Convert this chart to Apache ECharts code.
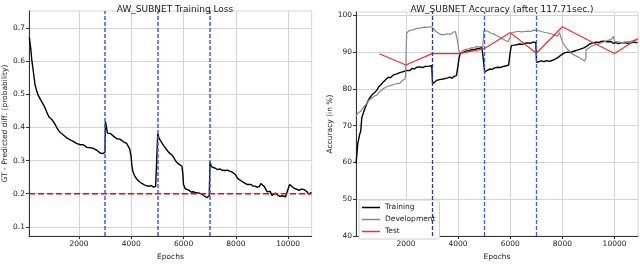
<!DOCTYPE html>
<html><head><meta charset="utf-8">
<script src="https://cdn.jsdelivr.net/npm/echarts@6/dist/echarts.min.js"></script>
<style>html,body{margin:0;padding:0;background:#fff}#c{width:640px;height:266px}</style>
</head><body><div id="c"></div>
<script>
// ---- data ----
const lossTitle = "AW_SUBNET Training Loss";
const accTitle = "AW_SUBNET Accuracy (after 117.71sec.)";
const xTicks = [2000, 4000, 6000, 8000, 10000];
const lossTicks = [0.1, 0.2, 0.3, 0.4, 0.5, 0.6, 0.7];
const accTicks = [40, 50, 60, 70, 80, 90, 100];
const phaseEpochs = [3000, 5000, 7000];
const lossThreshold = 0.2;
const seriesNames = ["Training", "Development", "Test"];

const trainingLoss = [[100,0.672],[150,0.64],[190,0.605],[250,0.57],[314,0.53],[380,0.51],[441,0.497],[520,0.485],[600,0.474],[659,0.466],[720,0.455],[800,0.44],[850,0.432],[889,0.428],[950,0.425],[1015,0.418],[1080,0.41],[1146,0.40],[1207,0.392],[1280,0.385],[1350,0.38],[1420,0.376],[1480,0.372],[1529,0.369],[1600,0.366],[1680,0.362],[1760,0.359],[1830,0.356],[1900,0.352],[1970,0.353],[2040,0.348],[2100,0.351],[2165,0.348],[2230,0.344],[2300,0.34],[2370,0.342],[2440,0.339],[2500,0.341],[2548,0.337],[2620,0.334],[2700,0.33],[2760,0.327],[2805,0.323],[2850,0.326],[2900,0.321],[2960,0.322],[2990,0.325],[3010,0.418],[3040,0.405],[3084,0.383],[3150,0.378],[3200,0.382],[3250,0.376],[3314,0.374],[3380,0.37],[3444,0.366],[3500,0.362],[3560,0.365],[3620,0.359],[3700,0.357],[3762,0.356],[3820,0.352],[3889,0.347],[3940,0.335],[3992,0.312],[4020,0.285],[4057,0.268],[4120,0.255],[4211,0.244],[4300,0.237],[4402,0.231],[4500,0.227],[4594,0.224],[4680,0.222],[4760,0.225],[4847,0.22],[4930,0.222],[4990,0.226],[5010,0.381],[5050,0.37],[5103,0.362],[5180,0.352],[5250,0.344],[5300,0.34],[5360,0.332],[5430,0.325],[5500,0.321],[5552,0.317],[5620,0.31],[5700,0.298],[5760,0.295],[5805,0.29],[5870,0.287],[5935,0.283],[5970,0.26],[5996,0.228],[6060,0.215],[6126,0.209],[6200,0.211],[6280,0.205],[6360,0.206],[6444,0.204],[6520,0.2],[6600,0.202],[6701,0.199],[6780,0.194],[6850,0.19],[6893,0.188],[6950,0.19],[6981,0.194],[7010,0.297],[7060,0.282],[7130,0.278],[7211,0.277],[7300,0.273],[7380,0.275],[7460,0.271],[7529,0.273],[7600,0.27],[7680,0.271],[7760,0.268],[7840,0.266],[7912,0.265],[7980,0.258],[8040,0.25],[8103,0.243],[8180,0.24],[8260,0.236],[8340,0.232],[8425,0.228],[8500,0.226],[8580,0.228],[8660,0.223],[8743,0.223],[8820,0.219],[8900,0.222],[8960,0.231],[9023,0.233],[9080,0.222],[9140,0.214],[9192,0.206],[9250,0.2],[9310,0.207],[9380,0.195],[9444,0.196],[9520,0.202],[9600,0.196],[9680,0.192],[9766,0.194],[9840,0.19],[9900,0.191],[9958,0.196],[10000,0.215],[10057,0.228],[10120,0.226],[10200,0.218],[10280,0.215],[10341,0.213],[10420,0.21],[10500,0.214],[10594,0.213],[10660,0.207],[10720,0.206],[10785,0.199],[10840,0.195],[10889,0.204]];

const trainingAcc = [[88,59.8],[153,65.1],[220,67.5],[268,68.6],[306,72.1],[370,73.5],[432,74.8],[510,76.2],[596,77.4],[700,78.4],[800,79.0],[880,79.6],[960,80.6],[1050,81.2],[1132,81.9],[1220,82.5],[1323,83.2],[1400,83.0],[1480,83.6],[1560,83.9],[1644,84.1],[1720,83.8],[1800,84.5],[1897,84.7],[1960,84.4],[2030,85.0],[2088,85.1],[2160,85.0],[2240,85.6],[2320,85.4],[2409,85.9],[2480,85.7],[2560,86.0],[2640,85.8],[2727,86.1],[2800,86.3],[2880,86.2],[2956,86.5],[2990,86.3],[3021,81.4],[3080,81.9],[3174,82.3],[3250,82.0],[3330,82.6],[3426,82.7],[3500,82.5],[3600,83.0],[3683,83.2],[3760,82.9],[3850,83.4],[3939,83.6],[3990,83.7],[4040,88.5],[4092,89.8],[4200,89.9],[4321,90.3],[4420,90.4],[4520,90.7],[4620,90.6],[4704,90.9],[4800,91.0],[4918,91.2],[4990,91.1],[5021,84.5],[5100,85.0],[5212,85.4],[5300,85.3],[5400,85.7],[5530,85.9],[5620,85.8],[5730,86.1],[5851,86.3],[5940,86.5],[5990,89.5],[6042,91.8],[6150,91.9],[6250,92.0],[6359,92.2],[6460,92.1],[6560,92.4],[6677,92.5],[6780,92.4],[6868,92.7],[6980,92.6],[7010,87.2],[7080,86.8],[7189,87.6],[7300,87.4],[7400,87.7],[7500,87.5],[7572,87.6],[7700,88.0],[7825,88.5],[7950,89.2],[8080,89.8],[8200,90.0],[8300,89.9],[8463,90.3],[8600,90.6],[8720,90.9],[8845,91.2],[8950,91.7],[9050,92.2],[9163,92.5],[9300,92.7],[9400,92.6],[9484,92.9],[9600,93.0],[9700,92.8],[9866,92.9],[9950,92.4],[10050,92.6],[10150,92.3],[10249,92.5],[10400,92.6],[10500,92.4],[10631,92.5],[10750,92.7],[10883,92.5]];

const developmentAcc = [[88,72.5],[150,73.4],[268,73.9],[350,74.8],[432,75.5],[520,76.2],[596,77.0],[700,77.6],[800,78.1],[880,78.3],[960,79.0],[1050,79.5],[1132,80.1],[1220,80.4],[1323,80.8],[1420,80.9],[1520,81.2],[1644,81.4],[1760,81.5],[1850,82.2],[1962,82.7],[1990,84.0],[2010,91.0],[2030,95.2],[2120,95.8],[2220,96.0],[2300,96.1],[2409,96.4],[2500,96.5],[2600,96.6],[2700,96.8],[2800,96.7],[2918,96.9],[3000,96.8],[3050,96.5],[3150,95.6],[3200,95.2],[3300,94.9],[3426,94.7],[3500,94.9],[3600,95.0],[3700,94.8],[3809,95.4],[3900,95.6],[3939,95.2],[3980,93.0],[4030,90.5],[4065,89.8],[4150,90.1],[4250,90.7],[4321,90.7],[4420,90.9],[4520,91.2],[4620,91.1],[4700,91.5],[4830,91.4],[4950,91.6],[4994,96.0],[5060,95.8],[5150,95.6],[5250,95.2],[5350,95.0],[5450,94.6],[5530,94.3],[5630,93.9],[5750,93.4],[5850,93.0],[5930,92.9],[5990,94.0],[6042,95.2],[6150,95.4],[6250,95.6],[6359,95.6],[6450,95.5],[6560,95.6],[6677,95.7],[6780,95.6],[6868,95.9],[6998,96.0],[7100,95.8],[7189,95.6],[7300,95.4],[7443,95.2],[7570,95.0],[7700,94.6],[7825,94.3],[7890,95.3],[7950,93.8],[8020,92.5],[8100,91.6],[8207,90.7],[8300,90.1],[8398,89.4],[8500,89.0],[8653,88.5],[8750,88.0],[8845,87.6],[8900,88.2],[8908,90.7],[9000,91.0],[9100,91.6],[9250,92.0],[9400,92.3],[9484,92.5],[9600,92.8],[9700,93.1],[9866,93.4],[9960,94.3],[10000,92.8],[10050,92.5],[10150,92.8],[10300,92.5],[10400,92.7],[10500,92.8],[10631,92.9],[10750,93.2],[10883,93.4]];

const testAcc = [[1000,89.5],[2000,86.5],[3000,89.6],[4000,89.6],[5000,90.9],[6000,95.3],[7000,89.7],[8000,96.9],[9000,93.2],[10000,89.6],[10900,93.7]];

// ---- chart ----
const FONT = "DejaVu Sans";
const TXT = "#222";
const X_MIN = 85, X_MAX = 10900;
const chart = echarts.init(document.getElementById('c'), null, {renderer: 'canvas'});

function xAxisDef(gridIndex) {
  return {
    type: 'value', gridIndex, min: X_MIN, max: X_MAX,
    name: 'Epochs', nameLocation: 'middle', nameGap: 14,
    nameTextStyle: {fontFamily: FONT, fontSize: 7.5, color: TXT},
    axisLine: {show: true, lineStyle: {color: '#333', width: 1}},
    axisTick: {show: true, length: 3, customValues: xTicks, lineStyle: {color: '#333'}},
    axisLabel: {customValues: xTicks, formatter: v => String(v), fontFamily: FONT, fontSize: 7.5, color: TXT, margin: 4},
    splitLine: {show: true, lineStyle: {color: '#d4d4d4', width: 1}}
  };
}
function yAxisDef(gridIndex, min, max, ticks, name, gap) {
  return {
    type: 'value', gridIndex, min, max,
    name, nameLocation: 'middle', nameGap: gap,
    nameTextStyle: {fontFamily: FONT, fontSize: 7.5, color: TXT},
    axisLine: {show: true, lineStyle: {color: '#333', width: 1}},
    axisTick: {show: true, length: 3, customValues: ticks, lineStyle: {color: '#333'}},
    axisLabel: {customValues: ticks, formatter: v => String(v), fontFamily: FONT, fontSize: 7.5, color: TXT, margin: 4},
    splitLine: {show: true, lineStyle: {color: '#d4d4d4', width: 1}}
  };
}
const blueLines = phaseEpochs.map(v => ({xAxis: v}));

chart.setOption({
  animation: false,
  title: [
    {text: lossTitle, left: 170, top: 0, textAlign: 'center',
     textStyle: {fontFamily: FONT, fontSize: 9, fontWeight: 'normal', color: TXT}},
    {text: accTitle, left: 497, top: 0, textAlign: 'center',
     textStyle: {fontFamily: FONT, fontSize: 9, fontWeight: 'normal', color: TXT}}
  ],
  grid: [
    {left: 29, top: 11, width: 282.7, height: 230, show: true, borderColor: '#d4d4d4', borderWidth: 1},
    {left: 356, top: 12, width: 282, height: 229, show: true, borderColor: '#d4d4d4', borderWidth: 1}
  ],
  xAxis: [xAxisDef(0), xAxisDef(1)],
  yAxis: [
    yAxisDef(0, 0.072, 0.752, lossTicks, 'GT - Predicted diff. (probability)', 20),
    yAxisDef(1, 40, 100.9, accTicks, 'Accuracy (in %)', 22)
  ],
  legend: {
    orient: 'vertical', left: 359, top: 200, padding: [3, 4, 3, 3],
    itemWidth: 18, itemHeight: 1.5, itemGap: 3, itemTextGap: 5,
    borderColor: '#d0d0d0', borderWidth: 1, borderRadius: 2, backgroundColor: '#fff',
    textStyle: {fontFamily: FONT, fontSize: 7.5, color: TXT, lineHeight: 9},
    data: seriesNames.map(n => ({name: n, icon: 'rect'})),
    itemStyle: {borderWidth: 0}
  },
  series: [
    {name: 'Threshold', type: 'line', xAxisIndex: 0, yAxisIndex: 0, z: 3,
     data: [[X_MIN, lossThreshold], [X_MAX, lossThreshold]],
     showSymbol: false, symbol: 'none', silent: true,
     itemStyle: {color: '#ff0000'},
     lineStyle: {color: '#ff0000', type: [6, 3], width: 1.4}},
    {name: 'Loss', type: 'line', xAxisIndex: 0, yAxisIndex: 0, data: trainingLoss, z: 2,
     showSymbol: false, symbol: 'none', lineStyle: {color: '#000', width: 1.4},
     markLine: {silent: true, symbol: 'none', label: {show: false}, animation: false,
       lineStyle: {color: '#3a5cff', type: [4, 2], width: 1.5},
       data: blueLines}},
    {name: seriesNames[0], type: 'line', xAxisIndex: 1, yAxisIndex: 1, data: trainingAcc,
     showSymbol: false, symbol: 'none', itemStyle: {color: '#000'}, lineStyle: {color: '#000', width: 1.4},
     markLine: {silent: true, symbol: 'none', label: {show: false}, animation: false,
       lineStyle: {color: '#3a5cff', type: [4, 2], width: 1.3},
       data: blueLines.map((d, i) => i === 0 ? ({...d, lineStyle: {color: '#2a3a9a', type: [4, 2], width: 1.3}}) : d)}},
    {name: seriesNames[1], type: 'line', xAxisIndex: 1, yAxisIndex: 1, data: developmentAcc,
     showSymbol: false, symbol: 'none', itemStyle: {color: '#888'}, lineStyle: {color: '#888', width: 1.2}},
    {name: seriesNames[2], type: 'line', xAxisIndex: 1, yAxisIndex: 1, data: testAcc,
     showSymbol: false, symbol: 'none', itemStyle: {color: '#ff2a2a'}, lineStyle: {color: '#ff2a2a', width: 1.2}}
  ]
});
</script>
</body></html>
